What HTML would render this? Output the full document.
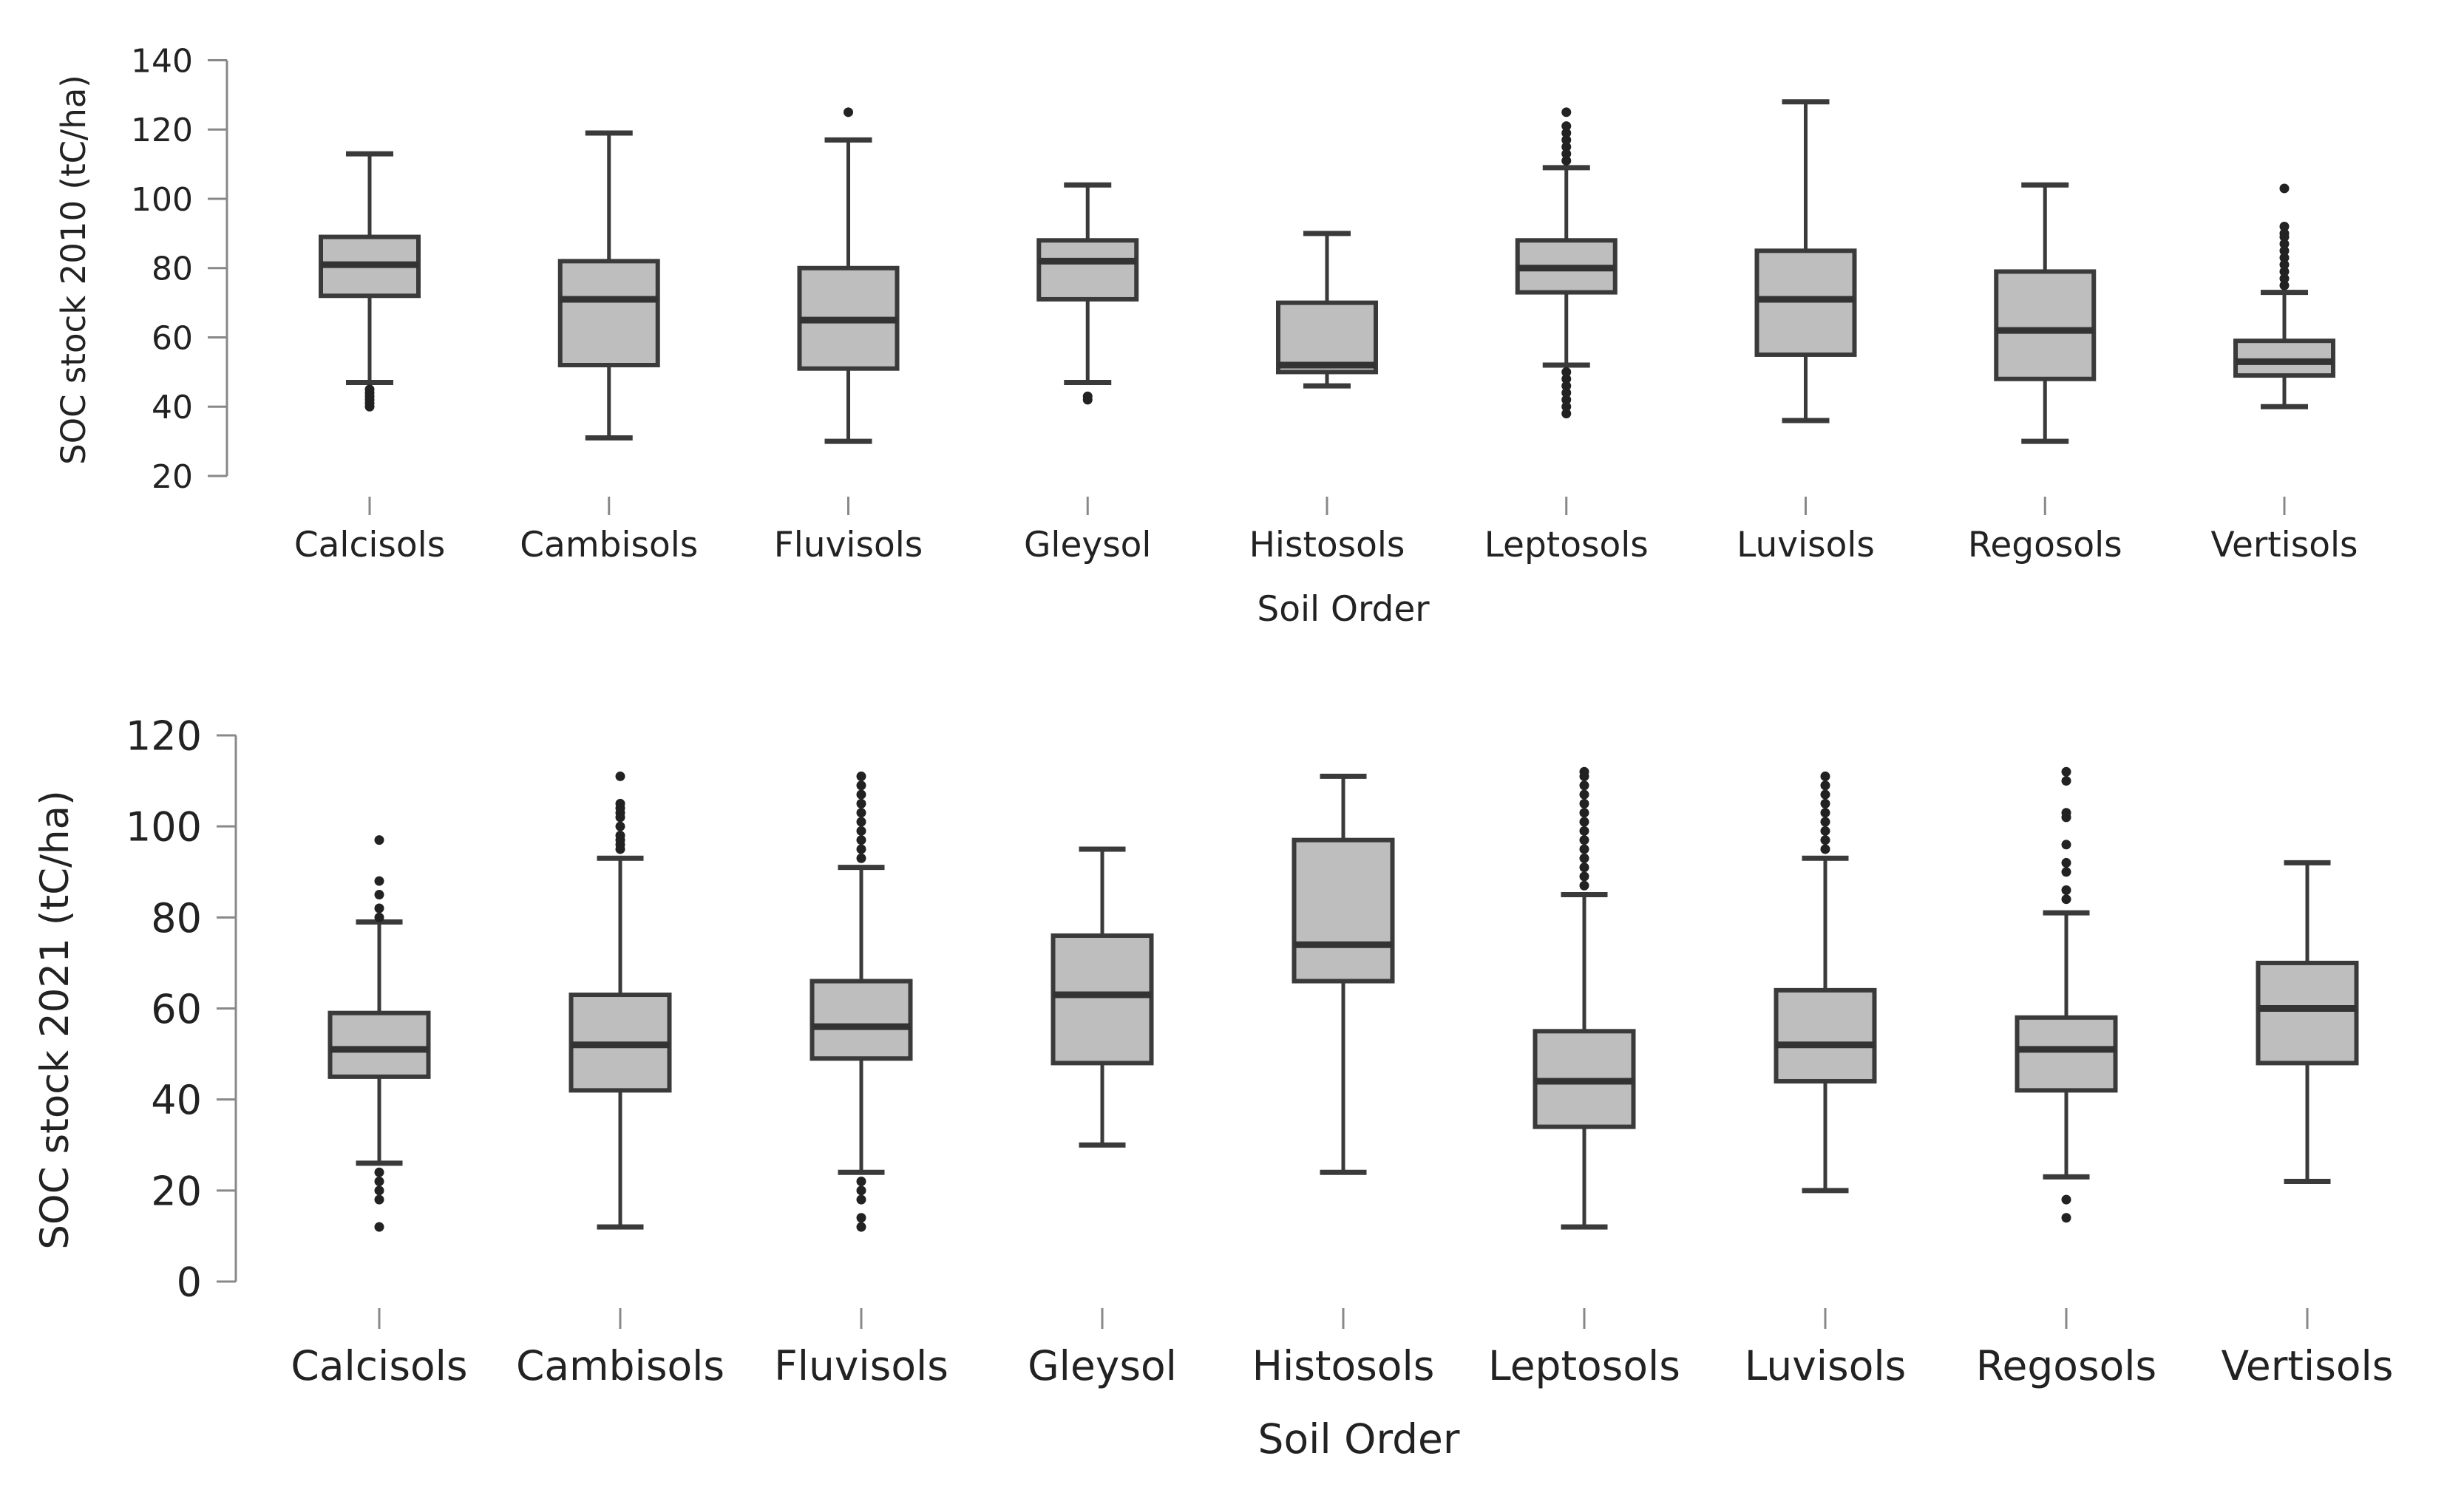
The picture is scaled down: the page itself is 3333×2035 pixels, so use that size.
<!DOCTYPE html>
<html><head><meta charset="utf-8">
<style>
html,body{margin:0;padding:0;background:#fff;}
svg{display:block;font-family:"DejaVu Sans","Liberation Sans",sans-serif;}
</style></head>
<body>
<svg id="chart" width="3333" height="2035" viewBox="0 0 3333 2035" xmlns="http://www.w3.org/2000/svg">
<rect width="3333" height="2035" fill="#fff"/>
<g id="top"></g>
<g id="bot"></g>
</svg>
<script>
const categories = ["Calcisols","Cambisols","Fluvisols","Gleysol","Histosols","Leptosols","Luvisols","Regosols","Vertisols"];
// 2010 panel: [lowWhisker, q1, median, q3, highWhisker]
const stats2010 = [
  [47,72,81,89,113],[31,52,71,82,119],[30,51,65,80,117],[47,71,82,88,104],[46,50,52,70,90],
  [52,73,80,88,109],[36,55,71,85,128],[30,48,62,79,104],[40,49,53,59,73]
];
const outliers2010 = [
  [40,41,42,43,44,45],[],[125],[42,43],[],
  [111,113,115,117,119,121,125,38,40,42,44,46,48,50],[],[],
  [75,77,79,81,83,85,87,89,90,92,103]
];
// 2021 panel
const stats2021 = [
  [26,45,51,59,79],[12,42,52,63,93],[24,49,56,66,91],[30,48,63,76,95],[24,66,74,97,111],
  [12,34,44,55,85],[20,44,52,64,93],[23,42,51,58,81],[22,48,60,70,92]
];
const outliers2021 = [
  [97,88,85,82,80,24,22,20,18,12],
  [95,96,97,98,100,102,103,104,105,111],
  [93,95,97,99,101,103,105,107,109,111,22,20,18,14,12],
  [],[],
  [87,89,91,93,95,97,99,101,103,105,107,109,111,112],
  [95,97,99,101,103,105,107,109,111],
  [84,86,90,92,96,102,103,110,112,18,14],
  []
];
const ticks2010 = [20,40,60,80,100,120,140];
const ticks2021 = [0,20,40,60,80,100,120];

const NS="http://www.w3.org/2000/svg";
function mk(parent,tag,attrs,text){
  const e=document.createElementNS(NS,tag);
  for(const k in attrs) e.setAttribute(k,attrs[k]);
  if(text!==undefined) e.textContent=text;
  parent.appendChild(e); return e;
}
function panel(g,cfg,stats,outs,ticks,title){
  const y=v=>cfg.y0+(v-cfg.vmin)*(cfg.y1-cfg.y0)/(cfg.vmax-cfg.vmin);
  const x=i=>cfg.x0+i*cfg.dx;
  const ax=mk(g,'line',{x1:cfg.ax,x2:cfg.ax,y1:y(cfg.vmin),y2:y(cfg.vmax),stroke:'#888','stroke-width':3});
  
  
  ticks.forEach(t=>{
    const tl=mk(g,'line',{x1:cfg.ax-26,x2:cfg.ax,y1:y(t),y2:y(t),stroke:'#888','stroke-width':3});
    
    
    const tx=mk(g,'text',{x:cfg.ax-46,y:y(t)+cfg.fs*0.36,'font-size':cfg.fs,'text-anchor':'end',fill:'#222'},String(t));
    
    
  });
  const yt=mk(g,'text',{x:0,y:0,'font-size':cfg.yfs,'text-anchor':'middle',fill:'#222',transform:`translate(${cfg.ytx},${cfg.yty}) rotate(-90)`},title);
  
  
  categories.forEach((c,i)=>{
    const cx=x(i), s=stats[i];
    const bx=mk(g,'g',{});
    
    
    mk(bx,'line',{x1:cx,x2:cx,y1:y(s[0]),y2:y(s[4]),stroke:'#3a3a3a','stroke-width':5});
    mk(bx,'line',{x1:cx-cfg.cw/2,x2:cx+cfg.cw/2,y1:y(s[0]),y2:y(s[0]),stroke:'#3a3a3a','stroke-width':7});
    mk(bx,'line',{x1:cx-cfg.cw/2,x2:cx+cfg.cw/2,y1:y(s[4]),y2:y(s[4]),stroke:'#3a3a3a','stroke-width':7});
    mk(bx,'rect',{x:cx-cfg.bw/2,y:y(s[3]),width:cfg.bw,height:y(s[1])-y(s[3]),fill:'#bebebe',stroke:'#3a3a3a','stroke-width':6});
    mk(bx,'line',{x1:cx-cfg.bw/2,x2:cx+cfg.bw/2,y1:y(s[2]),y2:y(s[2]),stroke:'#333','stroke-width':9});
    outs[i].forEach(o=>{
      const p=mk(bx,'circle',{cx:cx,cy:y(o),r:6.5,fill:'#222'});
      
      
    });
    const ct=mk(g,'line',{x1:cx,x2:cx,y1:cfg.ct0,y2:cfg.ct1,stroke:'#888','stroke-width':3});
    
    
    const lb=mk(g,'text',{x:cx,y:cfg.lby,'font-size':cfg.lfs,'text-anchor':'middle',fill:'#222'},c);
    
    
  });
  const xt=mk(g,'text',{x:cfg.xtx,y:cfg.xty,'font-size':cfg.lfs,'text-anchor':'middle',fill:'#222'},'Soil Order');
  
  
}
panel(document.getElementById('top'),
 {ax:307,vmin:20,vmax:140,y0:644,y1:81.5,x0:500,dx:323.75,bw:132,cw:64,fs:44,yfs:45,lfs:47,
  ytx:115,yty:365,ct0:672,ct1:697,lby:753,xtx:1817,xty:840},
 stats2010,outliers2010,ticks2010,'SOC stock 2010 (tC/ha)');
panel(document.getElementById('bot'),
 {ax:319,vmin:0,vmax:120,y0:1734,y1:995,x0:513,dx:326,bw:133,cw:63,fs:54,yfs:53,lfs:55,
  ytx:92,yty:1380,ct0:1770,ct1:1798,lby:1867,xtx:1838,xty:1966},
 stats2021,outliers2021,ticks2021,'SOC stock 2021 (tC/ha)');
</script>
</body></html>
